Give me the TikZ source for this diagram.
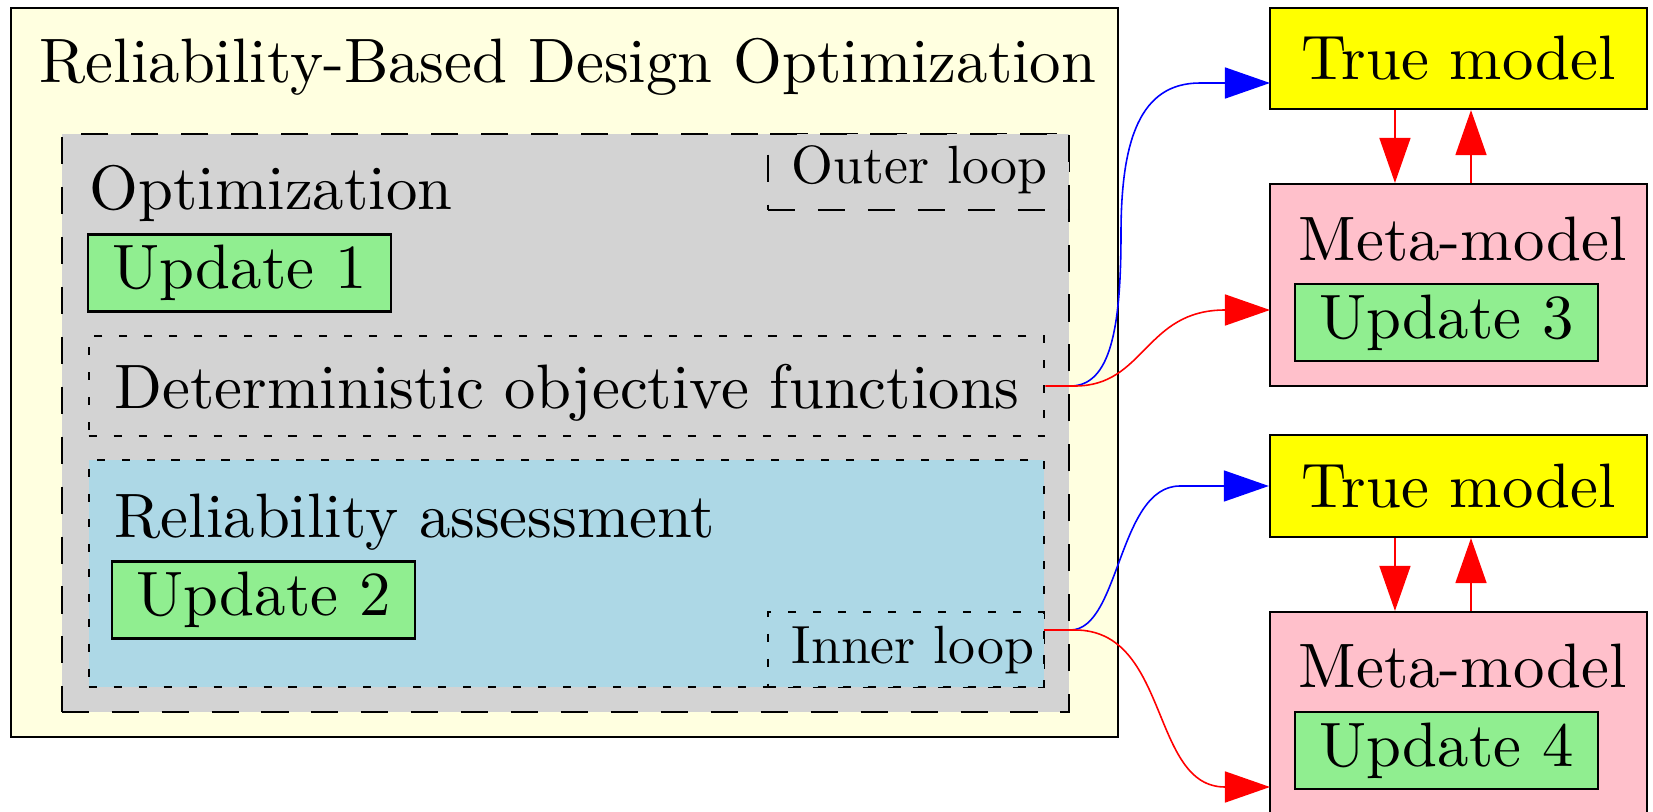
\documentclass[tikz,border=0pt]{standalone}
\usepackage{fontspec}
\usetikzlibrary{arrows.meta}

\newfontfamily\lmten{lmroman10-regular.otf}

\definecolor{rbdoyellow}{HTML}{FFFFE0}
\definecolor{optgray}{HTML}{D3D3D3}
\definecolor{relblue}{HTML}{ADD8E6}
\definecolor{updgreen}{HTML}{90EE90}
\definecolor{truey}{HTML}{FFFF00}
\definecolor{metapink}{HTML}{FFC0CB}

\newcommand{\mainsize}{\lmten\fontsize{17.85}{21}\selectfont}
\newcommand{\loopsize}{\lmten\fontsize{15.3}{18}\selectfont}

\begin{document}
\begin{tikzpicture}[x=0.01cm, y=-0.01cm,
    box/.style={draw, line width=0.6pt, inner sep=0pt},
    dashbox/.style={draw, line width=0.6pt, dash pattern=on 7.7pt off 6.5pt, inner sep=0pt},
    dotbox/.style={draw, line width=0.6pt, dash pattern=on 2.3pt off 4.8pt, inner sep=0pt},
    update/.style={box, fill=updgreen, font=\mainsize, minimum width=3.02cm, minimum height=0.77cm},
    lbl/.style={anchor=base west, inner sep=0pt, font=\mainsize},
    link/.style={line width=0.45pt, -{Triangle[length=0.45cm, width=0.31cm]}}]
  \clip (0,0) rectangle (1653,812);

  % RBDO frame with the optimization cluster
  \node[box, fill=rbdoyellow, minimum width=11.07cm, minimum height=7.29cm] (rbdo) at (564.5,372.5) {};
  \node[lbl] (rbdotitle) at (39,83) {Reliability-Based Design Optimization};
  \node[dashbox, fill=optgray, minimum width=10.07cm, minimum height=5.78cm] (optim) at (565.5,423) {};
  \node[dashbox, fill=optgray, minimum width=3.01cm, minimum height=0.76cm] (outer) at (918.5,172) {};
  \node[lbl, font=\loopsize] (outertext) at (791,183) {Outer loop};
  \node[lbl] (optimtext) at (89,209) {Optimization};
  \node[update] (upd1) at (239.5,273) {Update 1};

  % deterministic part
  \node[dotbox, fill=optgray, minimum width=9.55cm, minimum height=1.00cm] (det) at (566.5,386) {};
  \node[lbl] (dettext) at (114,408) {Deterministic objective functions};

  % reliability part, inner loop
  \node[dotbox, fill=relblue, minimum width=9.55cm, minimum height=2.27cm] (rel) at (566.5,573.5) {};
  \node[lbl] (reltext) at (114,537) {Reliability assessment};
  \node[update] (upd2) at (263.5,600) {Update 2};
  \node[dotbox, fill=relblue, minimum width=2.76cm, minimum height=0.75cm] (inner) at (906,649.5) {};
  \node[lbl, font=\loopsize] (innertext) at (791,663) {Inner loop};
  \coordinate (relout) at (1044,630);

  % models
  \node[box, fill=truey, font=\mainsize, minimum width=3.77cm, minimum height=1.01cm] (tm1) at (1458.5,58.5) {True model};
  \coordinate (tm1in) at (1270,83);
  \node[box, fill=metapink, minimum width=3.77cm, minimum height=2.02cm] (mm1) at (1458.5,285) {};
  \node[lbl] (mm1text) at (1298,260) {Meta-model};
  \node[update, minimum width=3.03cm] (upd3) at (1446.5,322.5) {Update 3};
  \coordinate (mm1in) at (1270,310);

  \node[box, fill=truey, font=\mainsize, minimum width=3.77cm, minimum height=1.02cm] (tm2) at (1458.5,486) {True model};
  \node[box, fill=metapink, minimum width=3.77cm, minimum height=2.02cm] (mm2) at (1458.5,713) {};
  \node[lbl] (mm2text) at (1298,687) {Meta-model};
  \node[update, minimum width=3.03cm] (upd4) at (1446.5,750.5) {Update 4};
  \coordinate (mm2in) at (1270,787);

  % links to the models
  \draw[link, blue] (det.east -| optim.east) .. controls (1110,386) and (1121,330) .. (1121,234)
    .. controls (1121,140) and (1140,83) .. (1200,83) -- (tm1in);
  \draw[link, red] (det.east) -- (1075,386) .. controls (1145,386) and (1145,310) .. (1225,310) -- (mm1in);
  \draw[link, blue] (relout -| optim.east) .. controls (1120,630) and (1118,486) .. (1180,486) -- (tm2.west);
  \draw[link, red] (relout) -- (1075,630) .. controls (1170,630) and (1150,787) .. (1225,787) -- (mm2in);

  \draw[link, red] ([xshift=-0.635cm]tm1.south) -- ([xshift=-0.635cm]mm1.north);
  \draw[link, red] ([xshift=0.125cm]mm1.north) -- ([xshift=0.125cm]tm1.south);
  \draw[link, red] ([xshift=-0.635cm]tm2.south) -- ([xshift=-0.635cm]mm2.north);
  \draw[link, red] ([xshift=0.125cm]mm2.north) -- ([xshift=0.125cm]tm2.south);
\end{tikzpicture}
\end{document}
